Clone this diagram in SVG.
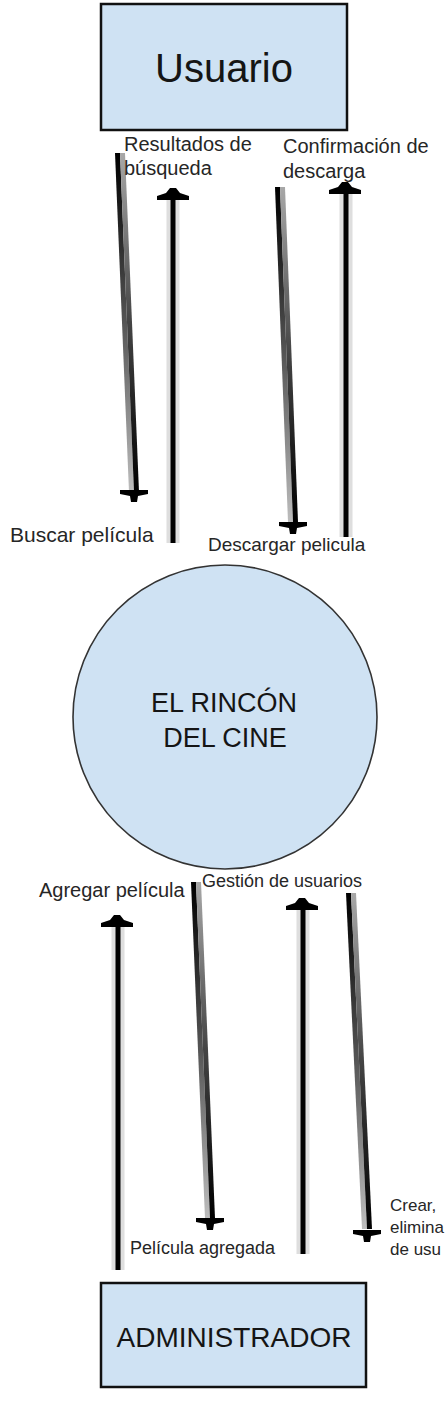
<svg xmlns="http://www.w3.org/2000/svg" width="446" height="1406" viewBox="0 0 446 1406">
<style>
.box{fill:#cfe2f3;stroke:#111;stroke-width:2.5}
.circ{fill:#cfe2f3;stroke:#333;stroke-width:1.6}
.lbl{font-family:"Liberation Sans",Arial,sans-serif;fill:#262626}
.title{font-family:"Liberation Sans",Arial,sans-serif;fill:#151515;text-anchor:middle}
.halo{stroke:#dedede;stroke-width:13;fill:none}
.shaft{stroke:#000;stroke-width:5;fill:none}
</style>
<defs>
<linearGradient id="gL" x1="0" y1="0" x2="0" y2="1"><stop offset="0" stop-color="#000"/><stop offset="0.5" stop-color="#555"/><stop offset="1" stop-color="#bdbdbd"/></linearGradient>
<linearGradient id="gR" x1="0" y1="0" x2="0" y2="1"><stop offset="0" stop-color="#a8a8a8"/><stop offset="0.5" stop-color="#444"/><stop offset="1" stop-color="#000"/></linearGradient>
<path id="up" d="M-16,12 L16,12 L16,8 L7,5 L3,0 L-3,0 L-7,5 L-16,8 Z"/>
<path id="down" d="M-14,-12 L14,-12 L14,-8 L4,-6 L3,0 L-3,0 L-4,-6 L-14,-8 Z"/>
</defs>
<rect width="446" height="1406" fill="#fff"/>

<g id="usuario">
<rect class="box" x="101" y="4" width="246" height="126"/>
<text class="title" x="224" y="82" font-size="40">Usuario</text>
</g>

<g id="sistema">
<circle class="circ" cx="225" cy="717" r="152"/>
<text class="title" x="224" y="712" font-size="27">EL RINCÓN</text>
<text class="title" x="225" y="747" font-size="27">DEL CINE</text>
</g>

<g id="administrador">
<rect class="box" x="101" y="1283" width="265" height="104"/>
<text class="title" x="234" y="1347" font-size="28">ADMINISTRADOR</text>
</g>

<g id="connectors">
<g id="c-buscar">
<polygon points="115,153 120,153 134,492 129,492" fill="url(#gL)"/>
<polygon points="120,153 125,153 139,492 134,492" fill="url(#gR)"/>
<use href="#down" x="134" y="502"/>
</g>
<g id="c-resultados">
<line class="halo" x1="173" y1="543" x2="173" y2="198"/>
<line class="shaft" x1="173" y1="543" x2="173" y2="196"/>
<use href="#up" x="173" y="188"/>
</g>
<g id="c-descargar">
<polygon points="275,187 280,187 293,522 288,522" fill="url(#gL)"/>
<polygon points="280,187 285,187 298,522 293,522" fill="url(#gR)"/>
<use href="#down" x="293" y="534"/>
</g>
<g id="c-confirmacion">
<line class="halo" x1="346" y1="537" x2="346" y2="192"/>
<line class="shaft" x1="346" y1="537" x2="346" y2="190"/>
<use href="#up" x="345" y="182"/>
</g>
<g id="c-agregar">
<line class="halo" x1="118" y1="1270" x2="118" y2="925"/>
<line class="shaft" x1="118" y1="1270" x2="118" y2="923"/>
<use href="#up" x="117" y="915"/>
</g>
<g id="c-agregada">
<polygon points="191,882 196,882 210,1218 205,1218" fill="url(#gL)"/>
<polygon points="196,882 201,882 215,1218 210,1218" fill="url(#gR)"/>
<use href="#down" x="210" y="1230"/>
</g>
<g id="c-gestion">
<line class="halo" x1="303" y1="1254" x2="303" y2="908"/>
<line class="shaft" x1="303" y1="1254" x2="303" y2="906"/>
<use href="#up" x="302" y="898"/>
</g>
<g id="c-crear">
<polygon points="346,893 351,893 367,1229 362,1229" fill="url(#gL)"/>
<polygon points="351,893 356,893 372,1229 367,1229" fill="url(#gR)"/>
<use href="#down" x="367" y="1242"/>
</g>
</g>

<g id="labels">
<text class="lbl" x="124" y="151" font-size="20">Resultados de</text>
<text class="lbl" x="124" y="175" font-size="20">búsqueda</text>
<text class="lbl" x="283" y="153" font-size="20">Confirmación de</text>
<text class="lbl" x="283" y="178" font-size="20">descarga</text>
<text class="lbl" x="10" y="542" font-size="21">Buscar película</text>
<text class="lbl" x="208" y="551" font-size="19">Descargar pelicula</text>
<text class="lbl" x="39" y="897" font-size="20">Agregar película</text>
<text class="lbl" x="202" y="887" font-size="18">Gestión de usuarios</text>
<text class="lbl" x="130" y="1254" font-size="18">Película agregada</text>
<text class="lbl" x="390" y="1211" font-size="17">Crear,</text>
<text class="lbl" x="390" y="1233" font-size="17">elimina</text>
<text class="lbl" x="390" y="1255" font-size="17">de usu</text>
</g>
</svg>
